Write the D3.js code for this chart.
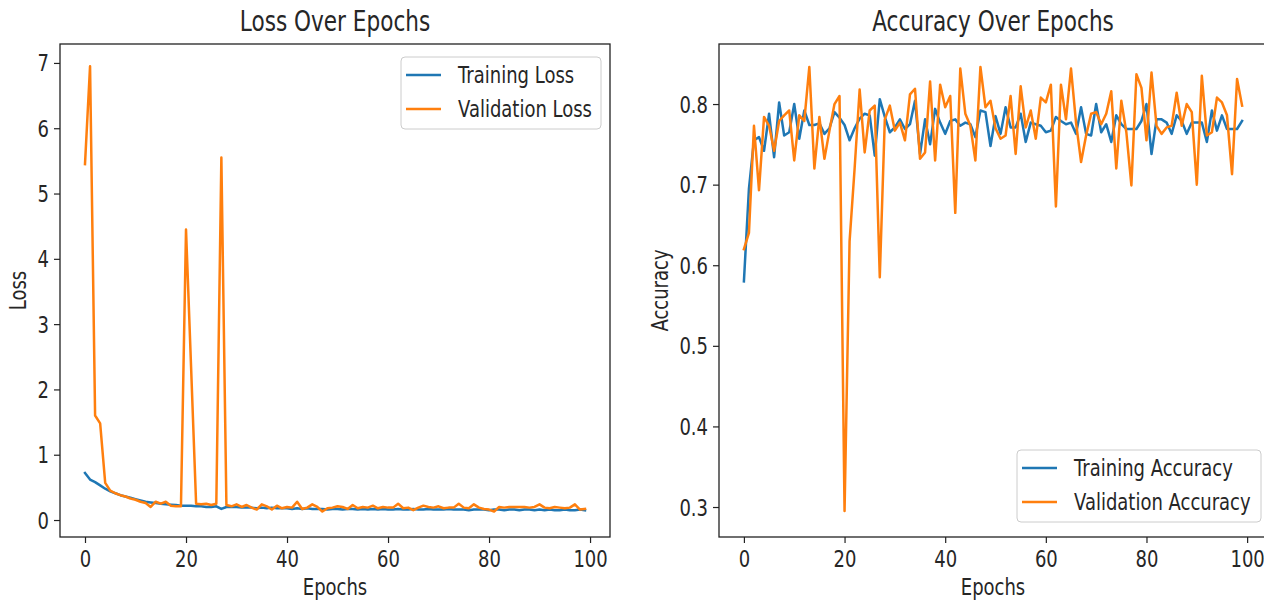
<!DOCTYPE html>
<html><head><meta charset="utf-8">
<script src="https://cdn.jsdelivr.net/npm/d3@7"></script>
<style>
body{margin:0;background:#fff}
text{font-family:"DejaVu Sans",sans-serif;fill:#262626}
</style></head>
<body><svg id="c" width="1264" height="600"></svg>
<script>
// ---------- data ----------
const trainLoss = [
0.72,0.62,0.58,0.53,0.48,0.44,0.41,0.38,0.36,0.34,
0.32,0.30,0.28,0.27,0.26,0.25,0.24,0.235,0.23,0.22,
0.22,0.22,0.21,0.21,0.20,0.20,0.21,0.17,0.20,0.20,
0.20,0.19,0.19,0.19,0.18,0.19,0.18,0.19,0.18,0.18,
0.18,0.17,0.18,0.17,0.18,0.17,0.17,0.17,0.16,0.17,
0.17,0.16,0.17,0.17,0.16,0.17,0.16,0.17,0.16,0.17,
0.16,0.16,0.17,0.16,0.16,0.17,0.16,0.16,0.17,0.16,
0.16,0.16,0.17,0.16,0.16,0.16,0.15,0.16,0.16,0.16,
0.15,0.16,0.16,0.15,0.16,0.16,0.15,0.16,0.16,0.15,
0.16,0.15,0.16,0.15,0.15,0.16,0.15,0.15,0.16,0.15];
const valLoss = [
5.45,6.95,1.60,1.48,0.57,0.45,0.41,0.38,0.36,0.33,
0.31,0.28,0.26,0.20,0.28,0.25,0.28,0.22,0.21,0.21,
4.45,2.35,0.25,0.24,0.25,0.23,0.25,5.55,0.23,0.21,
0.24,0.20,0.23,0.19,0.16,0.24,0.21,0.16,0.22,0.18,
0.20,0.19,0.28,0.17,0.19,0.24,0.20,0.13,0.18,0.19,
0.21,0.20,0.17,0.23,0.18,0.20,0.19,0.22,0.18,0.20,
0.19,0.19,0.25,0.18,0.19,0.15,0.19,0.22,0.20,0.19,
0.21,0.18,0.19,0.19,0.25,0.19,0.18,0.24,0.19,0.17,
0.16,0.13,0.20,0.19,0.20,0.20,0.20,0.20,0.19,0.20,
0.24,0.19,0.18,0.20,0.19,0.18,0.19,0.24,0.16,0.17];
const trainAcc = [
0.580,0.695,0.755,0.759,0.742,0.788,0.734,0.802,0.761,0.765,
0.800,0.757,0.792,0.774,0.774,0.776,0.763,0.770,0.790,0.783,
0.774,0.755,0.770,0.782,0.788,0.786,0.736,0.806,0.784,0.765,
0.771,0.781,0.769,0.775,0.804,0.738,0.781,0.750,0.794,0.777,
0.763,0.779,0.781,0.773,0.777,0.775,0.759,0.792,0.790,0.748,
0.785,0.763,0.796,0.771,0.771,0.788,0.753,0.777,0.775,0.773,
0.765,0.767,0.784,0.779,0.775,0.777,0.763,0.796,0.763,0.761,
0.800,0.765,0.775,0.753,0.786,0.775,0.769,0.769,0.769,0.779,
0.800,0.738,0.781,0.781,0.777,0.763,0.786,0.779,0.763,0.777,
0.777,0.777,0.753,0.792,0.767,0.786,0.769,0.769,0.769,0.779];
const valAcc = [
0.620,0.640,0.773,0.693,0.784,0.773,0.742,0.779,0.786,0.792,
0.730,0.786,0.779,0.846,0.720,0.784,0.732,0.767,0.800,0.810,
0.295,0.630,0.720,0.818,0.740,0.792,0.798,0.585,0.781,0.798,
0.767,0.777,0.755,0.812,0.819,0.732,0.740,0.828,0.730,0.824,
0.796,0.810,0.665,0.844,0.788,0.773,0.730,0.846,0.796,0.804,
0.770,0.757,0.761,0.810,0.738,0.822,0.771,0.792,0.757,0.808,
0.802,0.824,0.673,0.824,0.781,0.844,0.777,0.728,0.761,0.788,
0.790,0.775,0.788,0.816,0.720,0.804,0.765,0.699,0.837,0.820,
0.755,0.839,0.773,0.763,0.771,0.773,0.814,0.773,0.800,0.790,
0.700,0.835,0.761,0.765,0.808,0.802,0.786,0.713,0.831,0.798];
const xTicks = [0,20,40,60,80,100];
const lossTicks = [0,1,2,3,4,5,6,7];
const accTicks = [0.3,0.4,0.5,0.6,0.7,0.8];
const titles = ["Loss Over Epochs","Accuracy Over Epochs"];
const lossNames = ["Training Loss","Validation Loss"];
const accNames = ["Training Accuracy","Validation Accuracy"];
const colors = ["#1f77b4","#ff7f0e"];

// ---------- drawing ----------
const K = 1.3; // vertical glyph stretch of reference
const FS = 18;
const svg = d3.select("#c");
const defs = svg.append("defs");

function txt(g, s, x, y, size, anchor, rot){
  return g.append("text").text(s)
    .attr("text-anchor", anchor||"start")
    .style("font-size", size+"px")
    .attr("transform", `translate(${x},${y})${rot?` rotate(${rot})`:""} scale(1,${K})`);
}

function panel(id, box, yDomain, yTicks, yFmt, series, names, title, ylabel, ylabX, legend){
  const x = d3.scaleLinear().domain([-4.95,103.95]).range([box.l, box.r]);
  const y = d3.scaleLinear().domain(yDomain).range([box.b, box.t]);
  const g = svg.append("g");
  defs.append("clipPath").attr("id","clip"+id).append("rect")
    .attr("x",box.l).attr("y",box.t).attr("width",box.r-box.l).attr("height",box.b-box.t);

  const line = d3.line().x((d,i)=>x(i)).y(d=>y(d));
  series.forEach((s,i)=>{
    g.append("path").datum(s).attr("d",line)
      .attr("clip-path",`url(#clip${id})`)
      .attr("fill","none").attr("stroke",colors[i]).attr("stroke-width",2.5)
      .attr("stroke-linejoin","round").attr("stroke-linecap","square");
  });

  const ax = g.append("g").attr("transform",`translate(0,${box.b})`)
    .call(d3.axisBottom(x).tickValues(xTicks).tickSize(6).tickFormat(d3.format("d")));
  ax.select(".domain").remove();
  ax.selectAll("line").attr("stroke","#222").attr("stroke-width",1.2);
  ax.selectAll("text").attr("y",null).attr("dy",null)
    .style("font-size",FS+"px").attr("fill","#262626").style("font-family","DejaVu Sans")
    .attr("transform",`translate(0,30) scale(1,${K})`);

  const ay = g.append("g").attr("transform",`translate(${box.l},0)`)
    .call(d3.axisLeft(y).tickValues(yTicks).tickSize(6).tickFormat(yFmt));
  ay.select(".domain").remove();
  ay.selectAll("line").attr("stroke","#222").attr("stroke-width",1.2);
  ay.selectAll("text").attr("x",null).attr("dy",null)
    .style("font-size",FS+"px").attr("fill","#262626").style("font-family","DejaVu Sans")
    .attr("transform",`translate(-11,8) scale(1,${K})`);

  g.append("rect").attr("x",box.l).attr("y",box.t)
    .attr("width",box.r-box.l).attr("height",box.b-box.t)
    .attr("fill","none").attr("stroke","#222").attr("stroke-width",1.3);

  const cx = (box.l+box.r)/2;
  txt(g, title, cx, 31, 21.6, "middle");
  txt(g, "Epochs", cx, 595, FS, "middle");
  txt(g, ylabel, ylabX, (box.t+box.b)/2, FS, "middle", -90);

  const lg = g.append("g");
  lg.append("rect").attr("x",legend.x).attr("y",legend.y).attr("width",legend.w).attr("height",72)
    .attr("rx",4).attr("fill","#fff").attr("fill-opacity",0.8)
    .attr("stroke","#cccccc").attr("stroke-width",1);
  names.forEach((n,i)=>{
    const ly = legend.y + 18 + i*34;
    lg.append("line").attr("x1",legend.x+5).attr("x2",legend.x+40)
      .attr("y1",ly).attr("y2",ly).attr("stroke",colors[i]).attr("stroke-width",2.5);
    txt(lg, n, legend.x+57, ly+8, FS, "start");
  });
}

panel(0, {l:60,r:610,t:44,b:537}, [-0.26,7.29], lossTicks, d3.format("d"),
  [trainLoss,valLoss], lossNames, titles[0], "Loss", 26, {x:401,y:57,w:200});
panel(1, {l:719,r:1267,t:44,b:537}, [0.2628,0.8745], accTicks, d3.format(".1f"),
  [trainAcc,valAcc], accNames, titles[1], "Accuracy", 668, {x:1017,y:450,w:244});
</script>
</body></html>
